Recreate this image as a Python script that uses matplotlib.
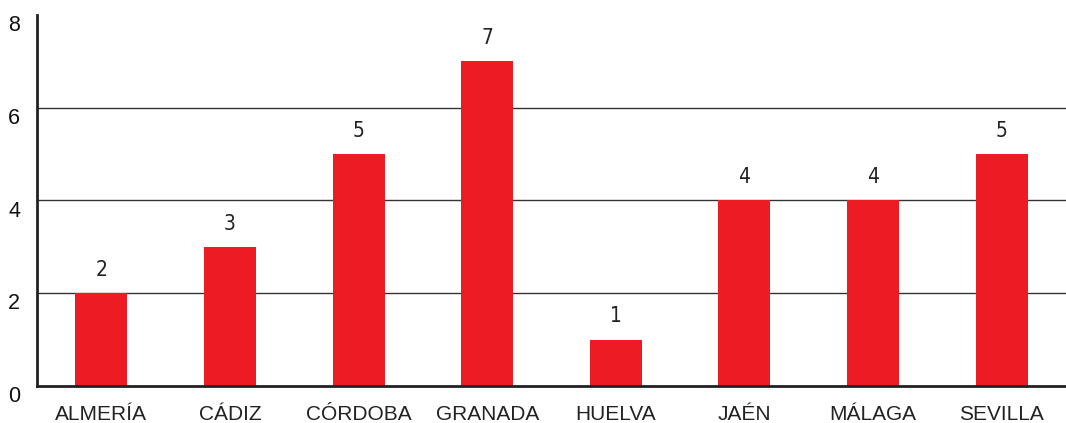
import matplotlib
matplotlib.use("Agg")
import matplotlib.pyplot as plt

categories = ["ALMERÍA", "CÁDIZ", "CÓRDOBA", "GRANADA", "HUELVA", "JAÉN", "MÁLAGA", "SEVILLA"]
values = [2, 3, 5, 7, 1, 4, 4, 5]
yticks = [0, 2, 4, 6, 8]

plt.rcParams['font.family'] = ['Liberation Sans', 'DejaVu Sans']
fig = plt.figure(figsize=(10.66, 4.23), dpi=100)
W, H = 1066, 423
ax = fig.add_axes([37 / W, (H - 386) / H, (1066 - 37) / W, (386 - 15) / H])

x = list(range(len(categories)))
ax.bar(x, values, width=0.405, color="#ED1C24", zorder=3)
for xi, v in zip(x, values):
    ax.annotate(str(v), (xi, v), xytext=(0, 12.5), textcoords="offset points",
                ha="center", va="baseline", fontsize=15, color="#222222",
                family="DejaVu Sans", fontstretch="condensed")

ax.set_xlim(-0.5, len(categories) - 0.5)
ax.set_ylim(0, 8)
ax.set_yticks(yticks)
ax.set_yticklabels([str(t) for t in yticks], fontsize=15.5, color="#111111", va="top")
ax.set_xticks(x)
ax.set_xticklabels(categories, fontsize=15, color="#222222", va="baseline")
ax.tick_params(axis="both", length=0)
ax.tick_params(axis="y", pad=12)
ax.tick_params(axis="x", pad=24.5)

for t in [2, 4, 6]:
    ax.axhline(t, color="#333333", linewidth=1.0, zorder=1)

for s in ["top", "right"]:
    ax.spines[s].set_visible(False)
ax.spines["left"].set_linewidth(2)
ax.spines["bottom"].set_linewidth(2)
ax.spines["left"].set_color("#222222")
ax.spines["bottom"].set_color("#222222")
ax.spines["bottom"].set_zorder(4)

fig.savefig("out.png", dpi=100)
